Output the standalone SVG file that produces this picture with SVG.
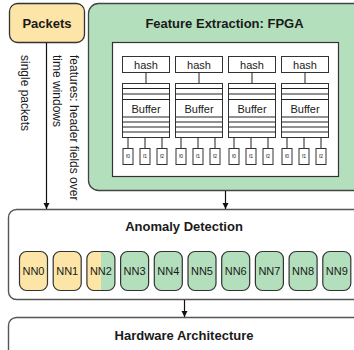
<svg xmlns="http://www.w3.org/2000/svg" width="354" height="350" viewBox="0 0 354 350">
<style>
text{font-family:"Liberation Sans",Arial,sans-serif;fill:#1a1a1a}
.title{font-size:13px;font-weight:bold;text-anchor:middle}
.lbl{font-size:11px;text-anchor:middle}
.tiny{font-size:5px;text-anchor:middle}
.rot{font-size:12px}
.box{fill:#fff;stroke:#333;stroke-width:1}
.ln{stroke:#222;stroke-width:1;fill:none}
.nn{stroke:#333;stroke-width:1.2}
.yel{fill:#fce5a6}
.grn{fill:#b4dfbd}
.nnout{fill:none;stroke:#333;stroke-width:1.2}
.conn{stroke:#111;stroke-width:1.2;fill:none;marker-end:url(#ah)}
</style>
<defs>
<marker id="ah" markerUnits="userSpaceOnUse" markerWidth="7" markerHeight="7" refX="6" refY="3" orient="auto">
<path d="M0,0 L6,3 L0,6 z" fill="#111"/>
</marker>
<clipPath id="rhalf"><rect x="101" y="245" width="20" height="50"/></clipPath>
</defs>

<g id="packets">
<rect x="9.5" y="3.5" width="75" height="39" rx="8" fill="#fce5a6" stroke="#333" stroke-width="1.3"/>
<text class="title" x="47" y="27.5">Packets</text>
</g>

<g id="feature-extraction">
<rect x="88.5" y="3.5" width="280" height="187" rx="10" fill="#b4dfbd" stroke="#444" stroke-width="1.3"/>
<text class="title" x="224.5" y="27.5">Feature Extraction: FPGA</text>
<rect x="112.5" y="42.5" width="226" height="134" fill="#fff" stroke="#333" stroke-width="1.2"/>
<g id="col0" transform="translate(122,0)">
<rect class="box" x="0.5" y="56.5" width="47" height="16"/>
<text class="lbl" x="24" y="68.5">hash</text>
<line class="ln" x1="24" y1="72.5" x2="24" y2="83.5"/>
<rect class="box" x="0.5" y="83.5" width="47" height="54"/>
<path class="ln" d="M0.5,88.5H47.5M0.5,94H47.5M0.5,99.5H47.5M0.5,117H47.5M0.5,122H47.5M0.5,127H47.5M0.5,132H47.5"/>
<text class="lbl" x="24" y="113">Buffer</text>
<path class="ln" d="M6,137.5V148.5M23,137.5V148.5M40,137.5V148.5"/>
<rect class="box" x="1" y="148.5" width="10" height="16"/>
<rect class="box" x="18" y="148.5" width="10" height="16"/>
<rect class="box" x="35" y="148.5" width="10" height="16"/>
<text class="tiny" x="6" y="158">f0</text>
<text class="tiny" x="23" y="158">f1</text>
<text class="tiny" x="40" y="158">f2</text>
</g>
<g id="col1" transform="translate(175,0)">
<rect class="box" x="0.5" y="56.5" width="47" height="16"/>
<text class="lbl" x="24" y="68.5">hash</text>
<line class="ln" x1="24" y1="72.5" x2="24" y2="83.5"/>
<rect class="box" x="0.5" y="83.5" width="47" height="54"/>
<path class="ln" d="M0.5,88.5H47.5M0.5,94H47.5M0.5,99.5H47.5M0.5,117H47.5M0.5,122H47.5M0.5,127H47.5M0.5,132H47.5"/>
<text class="lbl" x="24" y="113">Buffer</text>
<path class="ln" d="M6,137.5V148.5M23,137.5V148.5M40,137.5V148.5"/>
<rect class="box" x="1" y="148.5" width="10" height="16"/>
<rect class="box" x="18" y="148.5" width="10" height="16"/>
<rect class="box" x="35" y="148.5" width="10" height="16"/>
<text class="tiny" x="6" y="158">f0</text>
<text class="tiny" x="23" y="158">f1</text>
<text class="tiny" x="40" y="158">f2</text>
</g>
<g id="col2" transform="translate(228,0)">
<rect class="box" x="0.5" y="56.5" width="47" height="16"/>
<text class="lbl" x="24" y="68.5">hash</text>
<line class="ln" x1="24" y1="72.5" x2="24" y2="83.5"/>
<rect class="box" x="0.5" y="83.5" width="47" height="54"/>
<path class="ln" d="M0.5,88.5H47.5M0.5,94H47.5M0.5,99.5H47.5M0.5,117H47.5M0.5,122H47.5M0.5,127H47.5M0.5,132H47.5"/>
<text class="lbl" x="24" y="113">Buffer</text>
<path class="ln" d="M6,137.5V148.5M23,137.5V148.5M40,137.5V148.5"/>
<rect class="box" x="1" y="148.5" width="10" height="16"/>
<rect class="box" x="18" y="148.5" width="10" height="16"/>
<rect class="box" x="35" y="148.5" width="10" height="16"/>
<text class="tiny" x="6" y="158">f0</text>
<text class="tiny" x="23" y="158">f1</text>
<text class="tiny" x="40" y="158">f2</text>
</g>
<g id="col3" transform="translate(281,0)">
<rect class="box" x="0.5" y="56.5" width="47" height="16"/>
<text class="lbl" x="24" y="68.5">hash</text>
<line class="ln" x1="24" y1="72.5" x2="24" y2="83.5"/>
<rect class="box" x="0.5" y="83.5" width="47" height="54"/>
<path class="ln" d="M0.5,88.5H47.5M0.5,94H47.5M0.5,99.5H47.5M0.5,117H47.5M0.5,122H47.5M0.5,127H47.5M0.5,132H47.5"/>
<text class="lbl" x="24" y="113">Buffer</text>
<path class="ln" d="M6,137.5V148.5M23,137.5V148.5M40,137.5V148.5"/>
<rect class="box" x="1" y="148.5" width="10" height="16"/>
<rect class="box" x="18" y="148.5" width="10" height="16"/>
<rect class="box" x="35" y="148.5" width="10" height="16"/>
<text class="tiny" x="6" y="158">f0</text>
<text class="tiny" x="23" y="158">f1</text>
<text class="tiny" x="40" y="158">f2</text>
</g>
</g>

<g id="anomaly-detection">
<rect x="8.5" y="209.5" width="360" height="90" rx="8" fill="#fff" stroke="#555" stroke-width="1.4"/>
<text class="title" x="184" y="231">Anomaly Detection</text>
</g>

<g id="nn0"><rect class="yel nn" x="19.5" y="251.5" width="28" height="39" rx="7"/><text class="lbl" x="33.5" y="275">NN0</text></g>
<g id="nn1"><rect class="yel nn" x="53.2" y="251.5" width="28" height="39" rx="7"/><text class="lbl" x="67.2" y="275">NN1</text></g>
<g id="nn2">
<rect class="yel" x="86.9" y="251.5" width="28" height="39" rx="7"/>
<rect class="grn" x="86.9" y="251.5" width="28" height="39" rx="7" clip-path="url(#rhalf)"/>
<rect class="nnout" x="86.9" y="251.5" width="28" height="39" rx="7"/>
<text class="lbl" x="100.9" y="275">NN2</text></g>
<g id="nn3"><rect class="grn nn" x="120.6" y="251.5" width="28" height="39" rx="7"/><text class="lbl" x="134.6" y="275">NN3</text></g>
<g id="nn4"><rect class="grn nn" x="154.3" y="251.5" width="28" height="39" rx="7"/><text class="lbl" x="168.3" y="275">NN4</text></g>
<g id="nn5"><rect class="grn nn" x="188" y="251.5" width="28" height="39" rx="7"/><text class="lbl" x="202" y="275">NN5</text></g>
<g id="nn6"><rect class="grn nn" x="221.7" y="251.5" width="28" height="39" rx="7"/><text class="lbl" x="235.7" y="275">NN6</text></g>
<g id="nn7"><rect class="grn nn" x="255.4" y="251.5" width="28" height="39" rx="7"/><text class="lbl" x="269.4" y="275">NN7</text></g>
<g id="nn8"><rect class="grn nn" x="289.1" y="251.5" width="28" height="39" rx="7"/><text class="lbl" x="303.1" y="275">NN8</text></g>
<g id="nn9"><rect class="grn nn" x="322.8" y="251.5" width="28" height="39" rx="7"/><text class="lbl" x="336.8" y="275">NN9</text></g>

<g id="hardware-architecture">
<rect x="8.5" y="317.5" width="360" height="50" rx="8" fill="#fff" stroke="#555" stroke-width="1.4"/>
<text class="title" x="184" y="340">Hardware Architecture</text>
</g>

<g id="connectors">
<line class="conn" x1="46.5" y1="43" x2="46.5" y2="209"/>
<line class="conn" x1="225.5" y1="191" x2="225.5" y2="209"/>
<line class="conn" x1="184.5" y1="300" x2="184.5" y2="317"/>
<text class="rot" transform="translate(20.5,55) rotate(90)">single packets</text>
<text class="rot" transform="translate(69.5,55) rotate(90)">features: header fields over</text>
<text class="rot" transform="translate(53,55) rotate(90)">time windows</text>
</g>
</svg>
